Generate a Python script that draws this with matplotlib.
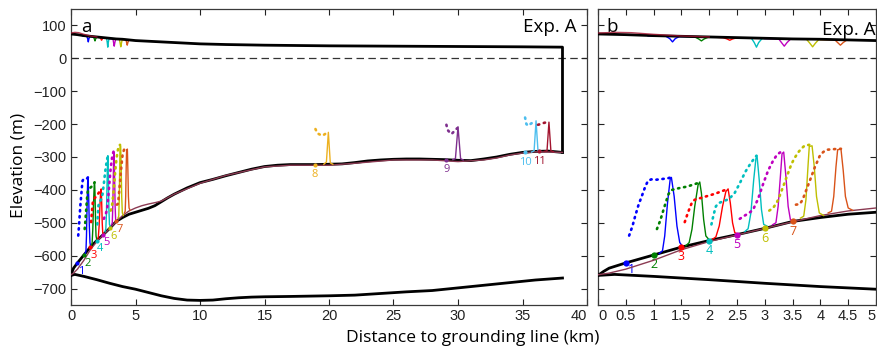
import matplotlib.pyplot as plt
import numpy as np

# geometria del hielo (km, m)
surf_x = [0, 0.5, 1, 1.5, 2, 2.5, 3, 3.5, 4, 4.5, 5, 6, 7, 8, 10, 12, 15, 20, 25, 30, 35, 38.1]
surf_y = [74, 72, 69, 67, 65, 63, 61, 59, 58, 56, 54, 52, 50, 48, 44, 42, 40, 38, 37, 36, 35, 34]
surf0_x = [0, 0.3, 0.6, 1.0, 1.5, 2.0]
surf0_y = [77, 79, 78, 73, 68, 65]

base_x = [0, 0.1, 0.2, 0.5, 1, 1.5, 2, 2.5, 3, 3.5, 4, 4.5, 5, 5.5, 6, 6.5, 7, 7.5, 8, 9, 10,
          11, 12, 13, 14, 15, 16, 17, 18, 19, 20, 21, 22, 23, 24, 25, 26, 27, 28, 29, 30,
          31, 32, 33, 34, 35, 36, 37, 38.1]
base_y = [-660, -648, -638, -622, -598, -574, -554, -536, -517, -496, -484, -474, -468, -462,
          -456, -448, -436, -424, -413, -394, -378, -368, -357, -347, -337, -329, -325, -323,
          -323, -323, -322, -321, -317, -312, -309, -307, -306, -306, -307, -308, -310, -311,
          -306, -300, -292, -286, -283, -282, -286]
base0_x = [0, 0.2, 0.5, 1, 1.5, 2, 2.5, 3, 3.5, 4, 4.5, 5, 5.5, 6, 6.6, 7, 8, 10, 12, 15, 17,
           20, 22, 25, 28, 30, 32, 33, 34, 35, 36, 38.1]
base0_y = [-658, -653, -641, -614, -582, -557, -537, -517, -497, -478, -464, -455, -448, -443,
           -438, -434, -413, -380, -356, -330, -325, -325, -319, -309, -309, -314, -309, -303,
           -294, -288, -284, -286]
bed_x = [0, 0.3, 1, 2, 3, 4, 5, 6, 7, 8, 9, 10, 11, 12, 13, 14, 15, 17, 20, 22, 24, 26, 28,
         30, 32, 34, 36, 38.1]
bed_y = [-660, -657, -663, -673, -684, -694, -702, -712, -722, -730, -735, -736, -735, -731,
         -728, -726, -725, -724, -722, -720, -715, -710, -706, -698, -690, -682, -674, -668]
front_x = 38.1

colors = ['#0000ff', '#008000', '#ff0000', '#00bfbf', '#bf00bf', '#bfbf00', '#d95319',
          '#edb120', '#7e2f8e', '#4dbeee', '#a2142f']
labels = ['1', '2', '3', '4', '5', '6', '7', '8', '9', '10', '11']

# posicion de cada pluma en la base
mark_x = [0.5, 1.0, 1.5, 2.0, 2.5, 3.0, 3.5, 18.9, 29.1, 35.2, 36.3]
mark_y = [-622, -598, -574, -554, -536, -517, -496, -323, -308, -286, -283]

# trayectoria punteada de la pluma
plume_x = [
    [0.56, 0.62, 0.67, 0.73, 0.79, 0.85, 0.90, 0.96, 1.05, 1.15, 1.25, 1.31],
    [1.06, 1.12, 1.17, 1.21, 1.27, 1.33, 1.45, 1.60, 1.75, 1.83],
    [1.56, 1.62, 1.69, 1.74, 1.90, 2.10, 2.34],
    [2.04, 2.08, 2.12, 2.17, 2.25, 2.35, 2.45, 2.55, 2.65, 2.75, 2.85],
    [2.55, 2.64, 2.72, 2.79, 2.88, 2.97, 3.06, 3.15, 3.22, 3.30],
    [3.08, 3.15, 3.22, 3.27, 3.33, 3.39, 3.48, 3.54, 3.60, 3.66, 3.72, 3.80],
    [3.56, 3.63, 3.68, 3.72, 3.81, 3.90, 3.99, 4.05, 4.11, 4.25, 4.37],
    [18.95, 19.1, 19.3, 19.5, 19.7, 19.9],
    [29.1, 29.2, 29.35, 29.5, 29.7, 29.95],
    [35.2, 35.3, 35.45, 35.6, 35.8, 36.0],
    [36.2, 36.4, 36.6, 36.8, 37.0],
]
plume_y = [
    [-539, -510, -479, -445, -418, -390, -372, -368, -369, -367, -365, -362],
    [-519, -493, -465, -443, -412, -400, -395, -390, -382, -377],
    [-498, -468, -438, -430, -422, -412, -397],
    [-505, -475, -450, -440, -435, -428, -412, -380, -345, -318, -296],
    [-488, -478, -470, -460, -427, -382, -341, -311, -293, -283],
    [-463, -455, -437, -417, -390, -362, -321, -302, -286, -274, -265, -263],
    [-445, -443, -430, -412, -372, -331, -296, -285, -278, -276, -275],
    [-215, -228, -232, -235, -230, -225],
    [-202, -218, -225, -230, -222, -212],
    [-180, -200, -205, -200, -195, -189],
    [-202, -200, -197, -195, -194],
]

# canal en la base del hielo (linea continua)
chan_x = [
    [1.10, 1.16, 1.20, 1.25, 1.30, 1.32, 1.37, 1.42, 1.47, 1.53],
    [1.58, 1.64, 1.69, 1.74, 1.80, 1.83, 1.86, 1.90, 1.94, 2.00],
    [2.06, 2.12, 2.18, 2.24, 2.30, 2.34, 2.38, 2.42, 2.46, 2.52],
    [2.64, 2.70, 2.75, 2.80, 2.84, 2.86, 2.90, 2.94, 2.98, 3.04],
    [3.14, 3.20, 3.24, 3.28, 3.31, 3.34, 3.38, 3.42, 3.46, 3.52],
    [3.64, 3.70, 3.74, 3.78, 3.80, 3.85, 3.89, 3.93, 3.98, 4.06],
    [4.14, 4.20, 4.24, 4.28, 4.31, 4.37, 4.41, 4.45, 4.50, 4.58],
    [19.6, 19.8, 19.95, 20.1, 20.3],
    [29.6, 29.8, 30.0, 30.2, 30.4],
    [35.7, 35.9, 36.05, 36.2, 36.4],
    [36.7, 36.9, 37.05, 37.2, 37.4],
]
chan_y = [
    [-594, -585, -540, -440, -365, -362, -420, -510, -560, -574],
    [-570, -560, -520, -450, -385, -376, -410, -490, -540, -552],
    [-550, -543, -510, -450, -405, -397, -440, -500, -530, -535],
    [-527, -518, -470, -370, -305, -296, -370, -460, -505, -510],
    [-506, -500, -450, -360, -290, -285, -360, -450, -490, -497],
    [-486, -480, -430, -320, -268, -266, -330, -420, -470, -478],
    [-470, -465, -420, -330, -278, -276, -340, -420, -455, -462],
    [-322, -315, -225, -318, -322],
    [-308, -305, -208, -305, -309],
    [-285, -281, -190, -281, -283],
    [-283, -281, -194, -281, -284],
]

# depresiones en la superficie
dip_x = [
    [0.9, 1.22, 1.29, 1.34, 1.39, 1.46, 1.7],
    [1.5, 1.74, 1.81, 1.86, 1.91, 1.98, 2.2],
    [2.0, 2.25, 2.32, 2.37, 2.42, 2.49, 2.7],
    [2.5, 2.76, 2.81, 2.85, 2.89, 2.95, 3.2],
    [3.0, 3.25, 3.30, 3.35, 3.40, 3.46, 3.7],
    [3.5, 3.75, 3.81, 3.86, 3.91, 3.97, 4.2],
    [4.0, 4.26, 4.31, 4.36, 4.41, 4.47, 4.7],
]
dip_y = [
    [68, 67, 60, 50, 60, 66, 66],
    [67, 65, 59, 53, 59, 64, 64],
    [65, 63, 59, 55, 59, 62, 62],
    [62, 61, 48, 34, 48, 60, 60],
    [60, 59, 48, 37, 48, 58, 58],
    [59, 58, 46, 35, 46, 57, 57],
    [57, 56, 48, 40, 48, 55, 55],
]

plt.rcParams['font.family'] = ['Liberation Sans', 'DejaVu Sans']
fig = plt.figure(figsize=(8.78, 3.54), dpi=100)
ax_a = fig.add_axes([71 / 878, 49 / 354, 516 / 878, 296 / 354])
ax_b = fig.add_axes([598 / 878, 49 / 354, 278 / 878, 296 / 354])


def dibujar(ax, panel):
    dots = (0, (0.5, 1.8))
    n = len(colors) if panel == 'a' else 7
    ax.axhline(0, color='#333333', lw=0.9, ls=(0, (6, 3.5)), zorder=1)
    for i in range(min(n, len(dip_x))):
        ax.plot(dip_x[i], dip_y[i], color=colors[i], lw=1.0, zorder=2)
    ax.plot(surf_x + [front_x, front_x], surf_y + [surf_y[-1], base_y[-1]], color='k', lw=2, zorder=3)
    ax.plot(surf0_x, surf0_y, color='#a2142f', lw=1.0, alpha=0.8, zorder=4)
    ax.plot(base_x, base_y, color='k', lw=2, zorder=3)
    ax.plot(bed_x, bed_y, color='k', lw=2, zorder=3)
    ax.plot(base0_x, base0_y, color='#8b3a52', lw=1.0, zorder=4)
    msize = 3 if panel == 'a' else 4.5
    for i in range(n):
        c = colors[i]
        ax.plot(chan_x[i], chan_y[i], color=c, lw=1.0, zorder=5)
        ax.plot(plume_x[i], plume_y[i], color=c, lw=1.9, ls=dots,
                dash_capstyle='round', zorder=5)
        ax.plot(mark_x[i], mark_y[i], 'o', color=c, ms=msize, mec='none', zorder=6)
        if panel == 'a' and i < 7:
            off = (2.5, -6)
            fs = 8
        elif panel == 'a':
            off = (0, -7)
            fs = 8
        else:
            off = (0, -7)
            fs = 9
        if panel == 'b' and i == 0:
            off = (4, -5)
        ax.annotate(labels[i], (mark_x[i], mark_y[i]), xytext=off, textcoords='offset points',
                    ha='center', va='center', color=c, fontsize=fs, family='Open Sans',
                    annotation_clip=True)
    ax.set_ylim(-750, 150)
    ax.set_yticks(np.arange(-700, 101, 100))
    ax.tick_params(direction='in', top=True, right=True, length=4, width=0.8,
                   labelsize=10.5, colors='#222222', pad=3)
    for s in ax.spines.values():
        s.set_linewidth(0.9)
        s.set_color('#3a3a3a')


dibujar(ax_a, 'a')
ax_a.set_xlim(0, 40)
ax_a.set_xticks(np.arange(0, 41, 5))
ax_a.get_xticklabels()[-1].set_horizontalalignment('right')
ax_a.text(0.02, 0.97, 'a', transform=ax_a.transAxes, fontsize=13.5, family='Open Sans', va='top')
ax_a.text(0.98, 0.97, 'Exp. A', transform=ax_a.transAxes, fontsize=13.5, family='Open Sans',
          va='top', ha='right')

dibujar(ax_b, 'b')
ax_b.set_xlim(0, 5)
ax_b.set_xticks(np.arange(0, 5.01, 0.5))
ax_b.set_xticklabels(['0', '0.5', '1', '1.5', '2', '2.5', '3', '3.5', '4', '4.5', '5'])
ax_b.get_xticklabels()[0].set_horizontalalignment('left')
ax_b.get_xticklabels()[-1].set_horizontalalignment('right')
ax_b.set_yticklabels([])
ax_b.text(0.03, 0.97, 'b', transform=ax_b.transAxes, fontsize=13.5, family='Open Sans', va='top')
ax_b.text(0.997, 0.96, 'Exp. A', transform=ax_b.transAxes, fontsize=13.5, family='Open Sans',
          va='top', ha='right')

fig.text(473 / 878, 1 - 338 / 354, 'Distance to grounding line (km)', ha='center', va='center',
         fontsize=12.5, family='Open Sans')
fig.text(19 / 878, 1 - 165 / 354, 'Elevation (m)', ha='center', va='center', rotation=90,
         fontsize=12.5, family='Open Sans')

fig.savefig('out.png', dpi=100)
